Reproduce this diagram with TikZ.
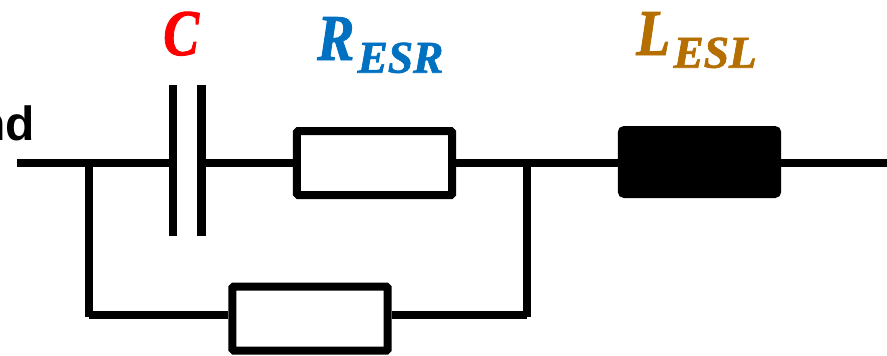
\documentclass[tikz,border=0pt]{standalone}
\usepackage{fontspec}
\setmainfont{Liberation Serif}[BoldItalicFeatures={FakeBold=1.5}]
\setsansfont{Liberation Sans}
\definecolor{esrblue}{HTML}{0070C0}
\definecolor{eslbrown}{HTML}{B46F00}
\newcommand{\sublabel}[2]{\scalebox{0.85}[1]{#1}\hspace{2.5pt}\raisebox{-9.5pt}{\fontsize{34}{34}\selectfont #2}}
\begin{document}
\begin{tikzpicture}[x=0.75pt,y=-0.75pt,
        wire/.style = {line width=6.2pt},
        res/.style = {draw,line width=6pt,rectangle,rounded corners=1pt,inner sep=0pt,minimum width=116.5pt,minimum height=48pt},
        plate/.style = {fill=black,rectangle,inner sep=0pt,minimum width=6.2pt,minimum height=113pt},
        lab/.style = {font=\fontsize{49}{49}\selectfont\bfseries\itshape,inner sep=0pt,anchor=base west}]
    \useasboundingbox (0,0) rectangle (887,355);

    \node[plate] (capa) at (173,160.5) {};
    \node[plate] (capb) at (201.5,160.5) {};
    \node[res] (resr) at (374.5,163) {};
    \node[res,fill=black,rounded corners=2pt] (lesl) at (699.5,162) {};
    \node[res] (rpar) at (310,318.5) {};

    \coordinate (in) at (17,163);
    \coordinate (out) at (887,163);
    \coordinate (jl) at (89,167);
    \coordinate (jr) at (527,167);
    \coordinate (bl) at (89,317);
    \coordinate (br) at (527,317);
    \coordinate (hl) at (89,315);
    \coordinate (hr) at (527,315);

    \draw[wire] (in) -- (in -| capa.west);
    \draw[wire] (in -| capb.east) -- (resr.west);
    \draw[wire] (resr.east) -- (in -| lesl.west);
    \draw[wire] (in -| lesl.east) -- (out);
    \draw[wire] (jl) -- (bl);
    \draw[wire] (jr) -- (br);
    \draw[wire] (hl) -- (hl -| rpar.west);
    \draw[wire] (hr) -- (hr -| rpar.east);

    \node[lab,text=red] (clab) at (163,55) {\scalebox{0.82}[1]{C}};
    \node[lab,text=esrblue] (rlab) at (317,60) {\sublabel{R}{ESR}};
    \node[lab,text=eslbrown] (llab) at (636,55) {\sublabel{L}{ESL}};
    \node[font=\fontsize{36}{36}\selectfont\sffamily\bfseries,inner sep=0pt,anchor=base east] (name) at (35,140) {nd};
\end{tikzpicture}
\end{document}
